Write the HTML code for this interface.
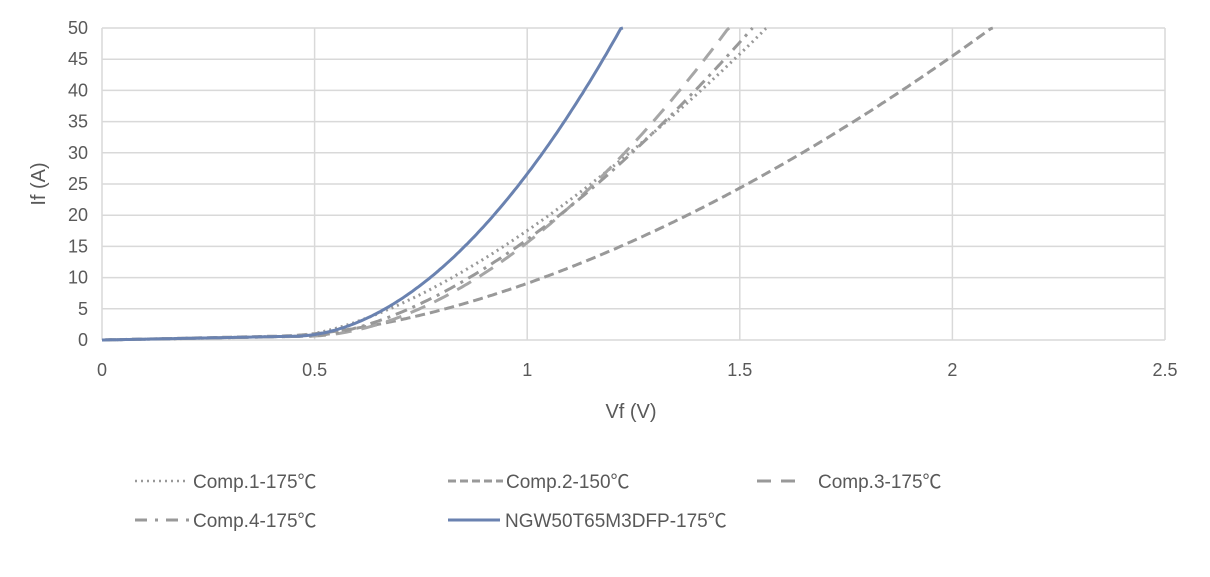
<!DOCTYPE html>
<html><head><meta charset="utf-8"><style>
body{margin:0;background:#fff;}
svg text{font-family:"Liberation Sans","Noto Sans CJK SC",sans-serif;fill:#595959;}
</style></head><body>
<svg id="s" width="1210" height="572" xmlns="http://www.w3.org/2000/svg">
<g id="grid" stroke="#d9d9d9" stroke-width="1.5"></g>
<g id="ticks" font-size="18"></g>
<text x="45" y="184" font-size="20" text-anchor="middle" transform="rotate(-90 45 184)">If (A)</text>
<text x="631" y="418" font-size="20" text-anchor="middle">Vf (V)</text>
<g id="curves" fill="none" stroke-width="3"></g>
<g font-size="19">
<line x1="135" y1="481" x2="187" y2="481" stroke="#999" stroke-width="2.5" stroke-dasharray="2 4"/>
<text x="193" y="488">Comp.1-175℃</text>
<line x1="448" y1="481" x2="503" y2="481" stroke="#999" stroke-width="3" stroke-dasharray="8 4"/>
<text x="506" y="488">Comp.2-150℃</text>
<line x1="757" y1="481" x2="800" y2="481" stroke="#999" stroke-width="3" stroke-dasharray="14 10"/>
<text x="818" y="488">Comp.3-175℃</text>
<line x1="135" y1="520" x2="190" y2="520" stroke="#999" stroke-width="3" stroke-dasharray="12 8 3 8"/>
<text x="193" y="527">Comp.4-175℃</text>
<line x1="448" y1="520" x2="500" y2="520" stroke="#6a82b0" stroke-width="3"/>
<text x="505" y="527">NGW50T65M3DFP-175℃</text>
</g>
</svg>
<script>
var X=v=>102+v*425.2, Y=i=>340-i*6.24;
var g=document.getElementById('grid'),t=document.getElementById('ticks'),ns='http://www.w3.org/2000/svg';
function el(p,tag,a,txt){var e=document.createElementNS(ns,tag);for(var k in a)e.setAttribute(k,a[k]);if(txt)e.textContent=txt;p.appendChild(e);return e;}
for(var i=0;i<=50;i+=5){el(g,'line',{x1:102,x2:1165,y1:Y(i),y2:Y(i)});el(t,'text',{x:88,y:Y(i)+6,'text-anchor':'end'},String(i));}
for(var v=0;v<=2.5;v+=0.5){el(g,'line',{x1:X(v),x2:X(v),y1:28,y2:340});el(t,'text',{x:X(v),y:376,'text-anchor':'middle'},String(v));}
function mk(a,n,v0,col,dash){var d='';for(var v=0;v<=2.5;v+=0.005){var I=v<v0?0.6*v/v0:0.6+a*Math.pow(v-v0,n);if(I>50){var vv=v;d+='L'+X(vv).toFixed(1)+','+Y(50);break;}d+=(d?'L':'M')+X(v).toFixed(1)+','+Y(I).toFixed(1);}
var c=document.getElementById('curves');var p=el(c,'path',{d:d,stroke:col});if(dash)p.setAttribute('stroke-dasharray',dash);}
mk(20.2,1.7,0.4,'#999','10 5');
mk(42,1.52,0.45,'#999','2 4');
mk(50,1.84,0.48,'#a6a6a6','16 10');
mk(45.6,1.65,0.48,'#999','12 6 3 6');
mk(81,1.9,0.45,'#6a82b0');
</script>
</body></html>
